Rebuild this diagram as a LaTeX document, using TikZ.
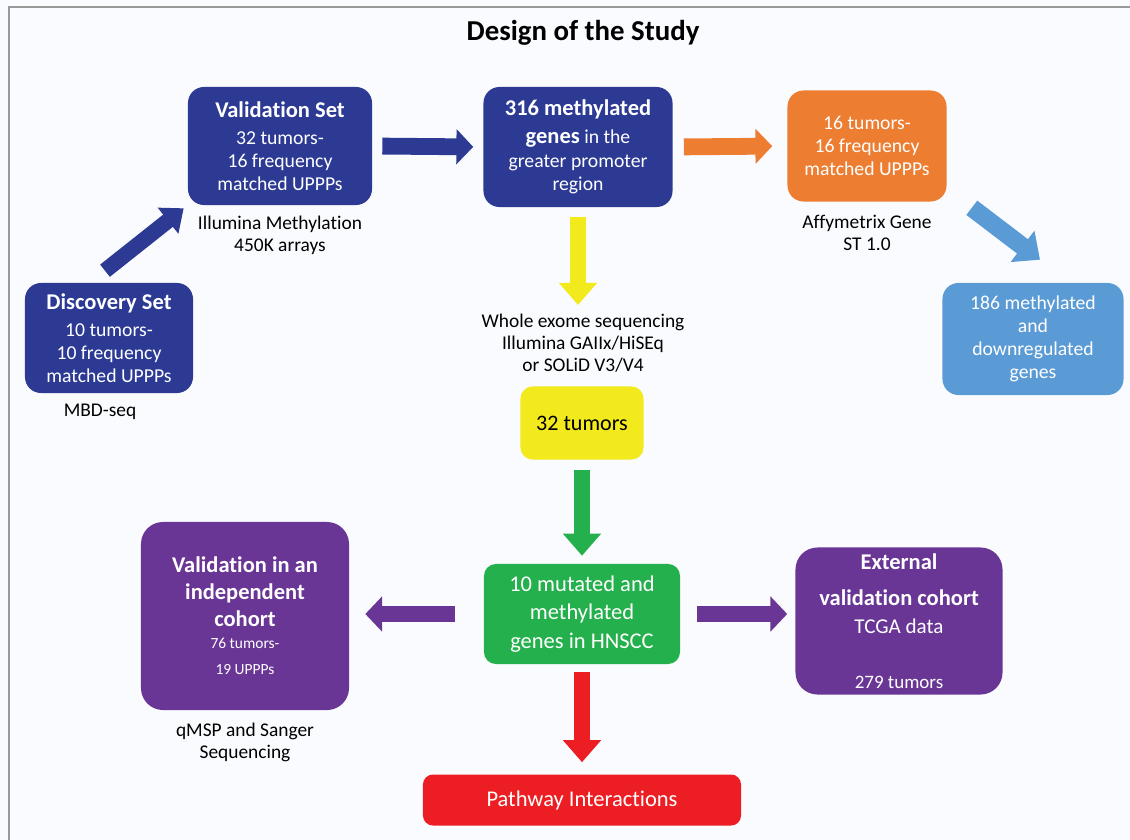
\documentclass[tikz,border=0pt]{standalone}
\usepackage{fontspec}
\setmainfont{Carlito}[Ligatures={NoCommon,NoContextual}]
\usetikzlibrary{arrows.meta,positioning,calc}

\definecolor{pagebg}{RGB}{250,251,254}
\definecolor{darkblue}{RGB}{44,58,148}
\definecolor{studyorange}{RGB}{237,125,49}
\definecolor{lightblue}{RGB}{91,155,213}
\definecolor{studyyellow}{RGB}{242,234,28}
\definecolor{studygreen}{RGB}{36,176,76}
\definecolor{studypurple}{RGB}{106,54,150}
\definecolor{studyred}{RGB}{236,30,36}

\newcommand{\hd}{\fontsize{16}{16.4}\selectfont\bfseries}

\begin{document}
\begin{tikzpicture}[
	x=0.025cm, y=-0.025cm,
	font=\fontsize{14}{16.4}\selectfont,
	stepbox/.style={rounded corners=0.4cm, text=white, align=center, inner sep=0pt},
	darkbox/.style={stepbox, fill=darkblue},
	orangebox/.style={stepbox, fill=studyorange},
	lightbox/.style={stepbox, fill=lightblue},
	yellowbox/.style={stepbox, fill=studyyellow, text=black, rounded corners=0.3cm},
	greenbox/.style={stepbox, fill=studygreen, rounded corners=0.3cm},
	purplebox/.style={stepbox, fill=studypurple, rounded corners=0.55cm},
	redbox/.style={stepbox, fill=studyred, rounded corners=0.25cm},
	caption/.style={align=center, text=black, font=\fontsize{13.8}{15.6}\selectfont},
	fatarrow/.style={line width=0.42cm, -{Triangle[length=0.42cm,width=0.86cm]}},
	tallarrow/.style={line width=0.4cm, -{Triangle[length=0.55cm,width=0.92cm]}}
	]
	
	% Page and frame
	\useasboundingbox (0,0) rectangle (1130,840);
	\fill[pagebg] (0,0) rectangle (1130,840);
	\draw[gray!80, line width=1.5pt] (9,840) -- (9,7) -- (1130,7);
	
	% Title
	\node[font=\fontsize{20.5}{24}\selectfont\bfseries] (title) at (583,33) {Design of the Study};
	
	% Methylation screening
	\node[darkbox, minimum width=4.2cm, minimum height=2.75cm] (disc) at (109,338)
	{{\hd Discovery Set}\\[3pt]10 tumors-\\10 frequency\\matched UPPPs};
	\node[caption] (mbd) at (100,412) {MBD-seq};
	
	\node[darkbox, minimum width=4.6cm, minimum height=2.95cm] (valid) at (280,146)
	{{\hd Validation Set}\\[3pt]32 tumors-\\16 frequency\\matched UPPPs};
	\node[caption, below=0.15cm of valid] (illumina) {Illumina Methylation\\450K arrays};
	
	\node[darkbox, minimum width=4.725cm, minimum height=3.0cm] (genes) at (578,147)
	{{\hd 316 methylated}\\[3.5pt]{\hd genes} in the\\[0.5pt]greater promoter\\region};
	
	% Expression branch
	\node[orangebox, minimum width=3.975cm, minimum height=2.775cm] (expr) at (867,146)
	{16 tumors-\\16 frequency\\matched UPPPs};
	\node[caption, below=0.2cm of expr] (affy) {Affymetrix Gene\\ST 1.0};
	
	\node[lightbox, minimum width=4.525cm, minimum height=2.8cm] (down) at (1033,339)
	{186 methylated\\and\\downregulated\\genes};
	
	% Sequencing
	\node[caption] (wes) at (583,343) {Whole exome sequencing\\Illumina GAIIx/HiSEq\\or SOLiD V3/V4};
	\node[yellowbox, minimum width=3.075cm, minimum height=1.825cm, font=\fontsize{15.7}{18}\selectfont] (seq) at (582,423)
	{32 tumors};
	
	\node[greenbox, minimum width=4.9cm, minimum height=2.5cm, font=\fontsize{16}{20}\selectfont] (mut) at (582,614)
	{10 mutated and\\methylated\\genes in HNSCC};
	
	% Validation cohorts
	\node[purplebox, minimum width=5.2cm, minimum height=4.7cm, font=\fontsize{11}{19}\selectfont] (indep) at (245,616)
	{{\hd Validation in an}\\{\hd independent}\\{\hd cohort}\\[-3.5pt]76 tumors-\\19 UPPPs};
	\node[caption, below=0.2cm of indep] (qmsp) {qMSP and Sanger\\Sequencing};
	
	\node[purplebox, minimum width=5.175cm, minimum height=3.675cm, font=\fontsize{15}{20}\selectfont] (ext) at (899,621)
	{{\hd External}\\[6pt]{\hd validation cohort}\\TCGA data\\[19pt]{\fontsize{13.5}{15}\selectfont 279 tumors}};
	
	% Pathways
	\node[redbox, minimum width=7.95cm, minimum height=1.275cm, font=\fontsize{16}{18}\selectfont] (path) at (582,800)
	{Pathway Interactions};
	
	% Arrows
	\draw[fatarrow, darkblue, line width=0.39cm, -{Triangle[length=0.5cm,width=0.8cm]}]
	($(disc.north)+(-4,-12)$) -- ($(valid.south west)+(-4,3)$);
	\draw[fatarrow, darkblue, shorten <=0.25cm, shorten >=0.25cm] (valid.east) -- (genes.west);
	\draw[fatarrow, studyorange, shorten <=0.275cm, shorten >=0.375cm] (genes.east) -- (expr.west);
	\draw[fatarrow, lightblue, line width=0.45cm, -{Triangle[length=0.55cm,width=0.95cm]}]
	($(expr.south east)+(25,6)$) -- ($(down.north)+(7,-23)$);
	\draw[tallarrow, studyyellow, shorten <=0.25cm, shorten >=0.1cm] (genes.south) -- (genes.south |- wes.north);
	\draw[tallarrow, studygreen, shorten <=0.25cm, shorten >=0.2cm] (seq.south) -- (mut.north);
	\draw[tallarrow, studyred, shorten <=0.2cm, shorten >=0.3cm] (mut.south) -- (path.north);
	\draw[fatarrow, studypurple, line width=0.38cm, shorten <=0.725cm, shorten >=0.4cm] (mut.west) -- (mut.west -| indep.east);
	\draw[fatarrow, studypurple, shorten <=0.425cm, shorten >=0.2cm] (mut.east) -- (mut.east -| ext.west);
	
\end{tikzpicture}
\end{document}
